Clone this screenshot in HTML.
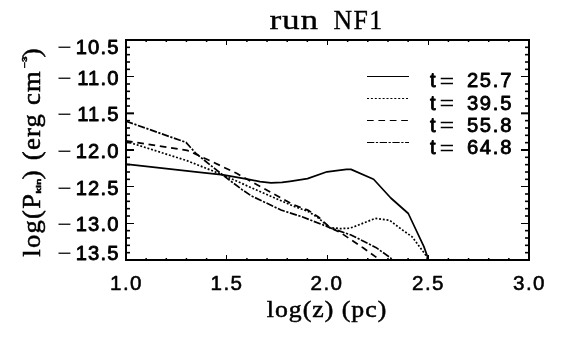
<!DOCTYPE html>
<html><head><meta charset="utf-8"><title>run NF1</title>
<style>
html,body{margin:0;padding:0;background:#fff;}
body{width:566px;height:340px;overflow:hidden;position:relative;font-family:"Liberation Sans",sans-serif;}
svg{position:absolute;left:0;top:0;display:block;filter:grayscale(1);}
.tk{font-family:"Liberation Sans",sans-serif;font-size:20.2px;letter-spacing:1.1px;fill:#000;stroke:#000;stroke-width:0.85px;stroke-linejoin:round;}
.mn{font-family:"Liberation Sans",sans-serif;font-size:18px;fill:#000;}
.ax{font-family:"Liberation Serif",serif;font-size:23px;letter-spacing:2px;fill:#000;stroke:#000;stroke-width:0.5px;}
.ti{font-family:"Liberation Serif",serif;font-size:27px;letter-spacing:3.2px;fill:#000;stroke:#000;stroke-width:0.35px;}
.sm{font-family:"Liberation Sans",sans-serif;font-size:8px;letter-spacing:0;font-weight:bold;fill:#000;stroke:#000;stroke-width:0.5px;}
</style></head>
<body>
<svg width="566" height="340" viewBox="0 0 566 340">
<rect x="0" y="0" width="566" height="340" fill="#fff"/>
<text transform="translate(269.6,28.8) scale(1.26,1)" class="ti" style="font-size:28px;letter-spacing:0.6px">run</text><text transform="translate(333.5,28.8) scale(0.955,1)" class="ti" style="letter-spacing:1.5px">NF1</text>
<rect x="126" y="40" width="403" height="220" fill="none" stroke="#000" stroke-width="2"/>
<g stroke="#000"><line x1="126" y1="40.50" x2="134" y2="40.50" stroke-width="1"/><line x1="529" y1="40.50" x2="521" y2="40.50" stroke-width="1"/><line x1="126" y1="47.33" x2="130" y2="47.33" stroke-width="1.6"/><line x1="529" y1="47.33" x2="525" y2="47.33" stroke-width="1.6"/><line x1="126" y1="54.67" x2="130" y2="54.67" stroke-width="1.6"/><line x1="529" y1="54.67" x2="525" y2="54.67" stroke-width="1.6"/><line x1="126" y1="62.00" x2="130" y2="62.00" stroke-width="1.6"/><line x1="529" y1="62.00" x2="525" y2="62.00" stroke-width="1.6"/><line x1="126" y1="69.33" x2="130" y2="69.33" stroke-width="1.6"/><line x1="529" y1="69.33" x2="525" y2="69.33" stroke-width="1.6"/><line x1="126" y1="76.50" x2="134" y2="76.50" stroke-width="1"/><line x1="529" y1="76.50" x2="521" y2="76.50" stroke-width="1"/><line x1="126" y1="84.00" x2="130" y2="84.00" stroke-width="1.6"/><line x1="529" y1="84.00" x2="525" y2="84.00" stroke-width="1.6"/><line x1="126" y1="91.33" x2="130" y2="91.33" stroke-width="1.6"/><line x1="529" y1="91.33" x2="525" y2="91.33" stroke-width="1.6"/><line x1="126" y1="98.67" x2="130" y2="98.67" stroke-width="1.6"/><line x1="529" y1="98.67" x2="525" y2="98.67" stroke-width="1.6"/><line x1="126" y1="106.00" x2="130" y2="106.00" stroke-width="1.6"/><line x1="529" y1="106.00" x2="525" y2="106.00" stroke-width="1.6"/><line x1="126" y1="113.33" x2="134" y2="113.33" stroke-width="2"/><line x1="529" y1="113.33" x2="521" y2="113.33" stroke-width="2"/><line x1="126" y1="120.67" x2="130" y2="120.67" stroke-width="1.6"/><line x1="529" y1="120.67" x2="525" y2="120.67" stroke-width="1.6"/><line x1="126" y1="128.00" x2="130" y2="128.00" stroke-width="1.6"/><line x1="529" y1="128.00" x2="525" y2="128.00" stroke-width="1.6"/><line x1="126" y1="135.33" x2="130" y2="135.33" stroke-width="1.6"/><line x1="529" y1="135.33" x2="525" y2="135.33" stroke-width="1.6"/><line x1="126" y1="142.67" x2="130" y2="142.67" stroke-width="1.6"/><line x1="529" y1="142.67" x2="525" y2="142.67" stroke-width="1.6"/><line x1="126" y1="150.00" x2="134" y2="150.00" stroke-width="2"/><line x1="529" y1="150.00" x2="521" y2="150.00" stroke-width="2"/><line x1="126" y1="157.33" x2="130" y2="157.33" stroke-width="1.6"/><line x1="529" y1="157.33" x2="525" y2="157.33" stroke-width="1.6"/><line x1="126" y1="164.67" x2="130" y2="164.67" stroke-width="1.6"/><line x1="529" y1="164.67" x2="525" y2="164.67" stroke-width="1.6"/><line x1="126" y1="172.00" x2="130" y2="172.00" stroke-width="1.6"/><line x1="529" y1="172.00" x2="525" y2="172.00" stroke-width="1.6"/><line x1="126" y1="179.33" x2="130" y2="179.33" stroke-width="1.6"/><line x1="529" y1="179.33" x2="525" y2="179.33" stroke-width="1.6"/><line x1="126" y1="186.50" x2="134" y2="186.50" stroke-width="1"/><line x1="529" y1="186.50" x2="521" y2="186.50" stroke-width="1"/><line x1="126" y1="194.00" x2="130" y2="194.00" stroke-width="1.6"/><line x1="529" y1="194.00" x2="525" y2="194.00" stroke-width="1.6"/><line x1="126" y1="201.33" x2="130" y2="201.33" stroke-width="1.6"/><line x1="529" y1="201.33" x2="525" y2="201.33" stroke-width="1.6"/><line x1="126" y1="208.67" x2="130" y2="208.67" stroke-width="1.6"/><line x1="529" y1="208.67" x2="525" y2="208.67" stroke-width="1.6"/><line x1="126" y1="216.00" x2="130" y2="216.00" stroke-width="1.6"/><line x1="529" y1="216.00" x2="525" y2="216.00" stroke-width="1.6"/><line x1="126" y1="223.50" x2="134" y2="223.50" stroke-width="1"/><line x1="529" y1="223.50" x2="521" y2="223.50" stroke-width="1"/><line x1="126" y1="230.67" x2="130" y2="230.67" stroke-width="1.6"/><line x1="529" y1="230.67" x2="525" y2="230.67" stroke-width="1.6"/><line x1="126" y1="238.00" x2="130" y2="238.00" stroke-width="1.6"/><line x1="529" y1="238.00" x2="525" y2="238.00" stroke-width="1.6"/><line x1="126" y1="245.33" x2="130" y2="245.33" stroke-width="1.6"/><line x1="529" y1="245.33" x2="525" y2="245.33" stroke-width="1.6"/><line x1="126" y1="252.67" x2="130" y2="252.67" stroke-width="1.6"/><line x1="529" y1="252.67" x2="525" y2="252.67" stroke-width="1.6"/><line x1="126" y1="259.50" x2="134" y2="259.50" stroke-width="1"/><line x1="529" y1="259.50" x2="521" y2="259.50" stroke-width="1"/><line x1="126.50" y1="260" x2="126.50" y2="255" stroke-width="1"/><line x1="126.50" y1="40" x2="126.50" y2="45" stroke-width="1"/><line x1="146.15" y1="260" x2="146.15" y2="258.0" stroke-width="1.5"/><line x1="146.15" y1="40" x2="146.15" y2="42.0" stroke-width="1.5"/><line x1="166.30" y1="260" x2="166.30" y2="258.0" stroke-width="1.5"/><line x1="166.30" y1="40" x2="166.30" y2="42.0" stroke-width="1.5"/><line x1="186.45" y1="260" x2="186.45" y2="258.0" stroke-width="1.5"/><line x1="186.45" y1="40" x2="186.45" y2="42.0" stroke-width="1.5"/><line x1="206.60" y1="260" x2="206.60" y2="258.0" stroke-width="1.5"/><line x1="206.60" y1="40" x2="206.60" y2="42.0" stroke-width="1.5"/><line x1="226.50" y1="260" x2="226.50" y2="255" stroke-width="1"/><line x1="226.50" y1="40" x2="226.50" y2="45" stroke-width="1"/><line x1="246.90" y1="260" x2="246.90" y2="258.0" stroke-width="1.5"/><line x1="246.90" y1="40" x2="246.90" y2="42.0" stroke-width="1.5"/><line x1="267.05" y1="260" x2="267.05" y2="258.0" stroke-width="1.5"/><line x1="267.05" y1="40" x2="267.05" y2="42.0" stroke-width="1.5"/><line x1="287.20" y1="260" x2="287.20" y2="258.0" stroke-width="1.5"/><line x1="287.20" y1="40" x2="287.20" y2="42.0" stroke-width="1.5"/><line x1="307.35" y1="260" x2="307.35" y2="258.0" stroke-width="1.5"/><line x1="307.35" y1="40" x2="307.35" y2="42.0" stroke-width="1.5"/><line x1="327.50" y1="260" x2="327.50" y2="255" stroke-width="1"/><line x1="327.50" y1="40" x2="327.50" y2="45" stroke-width="1"/><line x1="347.65" y1="260" x2="347.65" y2="258.0" stroke-width="1.5"/><line x1="347.65" y1="40" x2="347.65" y2="42.0" stroke-width="1.5"/><line x1="367.80" y1="260" x2="367.80" y2="258.0" stroke-width="1.5"/><line x1="367.80" y1="40" x2="367.80" y2="42.0" stroke-width="1.5"/><line x1="387.95" y1="260" x2="387.95" y2="258.0" stroke-width="1.5"/><line x1="387.95" y1="40" x2="387.95" y2="42.0" stroke-width="1.5"/><line x1="408.10" y1="260" x2="408.10" y2="258.0" stroke-width="1.5"/><line x1="408.10" y1="40" x2="408.10" y2="42.0" stroke-width="1.5"/><line x1="428.50" y1="260" x2="428.50" y2="255" stroke-width="1"/><line x1="428.50" y1="40" x2="428.50" y2="45" stroke-width="1"/><line x1="448.40" y1="260" x2="448.40" y2="258.0" stroke-width="1.5"/><line x1="448.40" y1="40" x2="448.40" y2="42.0" stroke-width="1.5"/><line x1="468.55" y1="260" x2="468.55" y2="258.0" stroke-width="1.5"/><line x1="468.55" y1="40" x2="468.55" y2="42.0" stroke-width="1.5"/><line x1="488.70" y1="260" x2="488.70" y2="258.0" stroke-width="1.5"/><line x1="488.70" y1="40" x2="488.70" y2="42.0" stroke-width="1.5"/><line x1="508.85" y1="260" x2="508.85" y2="258.0" stroke-width="1.5"/><line x1="508.85" y1="40" x2="508.85" y2="42.0" stroke-width="1.5"/><line x1="529.50" y1="260" x2="529.50" y2="255" stroke-width="1"/><line x1="529.50" y1="40" x2="529.50" y2="45" stroke-width="1"/></g>
<g fill="none" stroke="#000" stroke-linejoin="round">
<polyline points="126.0,164.2 200.0,172.3 223.3,174.9 248.6,179.3 260.0,181.6 271.0,182.9 282.0,182.4 290.0,181.3 307.5,178.6 327.0,171.8 346.4,169.4 351.0,169.4 373.6,179.2 390.8,198.0 408.3,213.5 423.9,246.6 427.7,257.3 428.5,260.0" stroke-width="1.7"/>
<polyline points="126.0,141.4 186.5,160.5 222.3,174.7 255.6,189.6 292.5,205.8 308.5,211.6 318.4,218.0 329.5,227.6 340.0,228.6 349.8,228.2 354.7,226.5 364.6,222.6 375.3,218.4 389.8,220.4 398.6,227.2 412.2,236.9 425.8,255.3 428.0,260.0" stroke-width="1.7" stroke-dasharray="1.9 1.85"/>
<polyline points="126.0,140.9 187.0,150.3 212.4,161.8 237.0,173.6 257.0,184.8 292.5,204.3 308.5,210.4 318.4,217.0 330.0,227.6 341.0,233.0 363.4,248.0 380.0,260.0" stroke-width="1.7" stroke-dasharray="6.7 4.7"/>
<polyline points="126.0,121.2 186.0,142.4 196.0,153.5 222.3,174.7 242.0,189.6 251.2,195.8 281.0,210.0 302.0,216.8 321.0,224.1 330.0,227.8 351.0,235.0 375.8,247.4 390.6,257.9 392.0,260.0" stroke-width="1.7" stroke-dasharray="7.3 1.6 2.2 1.6"/>
</g>
<text transform="translate(57.2,53.2) scale(1.36,1)" class="mn">−</text><text x="119.5" y="54.2" text-anchor="end" class="tk">10.5</text><text transform="translate(57.2,83.8) scale(1.36,1)" class="mn">−</text><text x="119.5" y="84.8" text-anchor="end" class="tk">11.0</text><text transform="translate(57.2,120.4) scale(1.36,1)" class="mn">−</text><text x="119.5" y="121.4" text-anchor="end" class="tk">11.5</text><text transform="translate(57.2,157.1) scale(1.36,1)" class="mn">−</text><text x="119.5" y="158.1" text-anchor="end" class="tk">12.0</text><text transform="translate(57.2,193.8) scale(1.36,1)" class="mn">−</text><text x="119.5" y="194.8" text-anchor="end" class="tk">12.5</text><text transform="translate(57.2,230.4) scale(1.36,1)" class="mn">−</text><text x="119.5" y="231.4" text-anchor="end" class="tk">13.0</text><text transform="translate(57.2,258.9) scale(1.36,1)" class="mn">−</text><text x="119.5" y="259.9" text-anchor="end" class="tk">13.5</text>
<text x="126.5" y="289.9" text-anchor="middle" class="tk" style="font-size:20.6px;stroke-width:0.55px;letter-spacing:1.5px">1.0</text><text x="227" y="289.9" text-anchor="middle" class="tk" style="font-size:20.6px;stroke-width:0.55px;letter-spacing:1.5px">1.5</text><text x="327" y="289.9" text-anchor="middle" class="tk" style="font-size:20.6px;stroke-width:0.55px;letter-spacing:1.5px">2.0</text><text x="428.5" y="289.9" text-anchor="middle" class="tk" style="font-size:20.6px;stroke-width:0.55px;letter-spacing:1.5px">2.5</text><text x="529.5" y="289.9" text-anchor="middle" class="tk" style="font-size:20.6px;stroke-width:0.55px;letter-spacing:1.5px">3.0</text>
<line x1="367" y1="76.5" x2="409" y2="76.5" stroke="#000" stroke-width="1" /><text x="430" y="87.3" class="tk">t</text><text transform="translate(439.5,87.6) scale(1.4,1.15)" class="mn">=</text><text x="513.2" y="87.3" text-anchor="end" class="tk" style="letter-spacing:1.75px">25.7</text><line x1="367" y1="98.5" x2="409" y2="98.5" stroke="#000" stroke-width="1" stroke-dasharray="2 1.9"/><text x="430" y="110.1" class="tk">t</text><text transform="translate(439.5,110.4) scale(1.4,1.15)" class="mn">=</text><text x="513.2" y="110.1" text-anchor="end" class="tk" style="letter-spacing:1.75px">39.5</text><line x1="367" y1="120.5" x2="409" y2="120.5" stroke="#000" stroke-width="1" stroke-dasharray="6.7 4.7"/><text x="430" y="132.1" class="tk">t</text><text transform="translate(439.5,132.4) scale(1.4,1.15)" class="mn">=</text><text x="513.2" y="132.1" text-anchor="end" class="tk" style="letter-spacing:1.75px">55.8</text><line x1="367" y1="142.5" x2="409" y2="142.5" stroke="#000" stroke-width="1" stroke-dasharray="7.3 1.6 2.2 1.6"/><text x="430" y="154.2" class="tk">t</text><text transform="translate(439.5,154.5) scale(1.4,1.15)" class="mn">=</text><text x="513.2" y="154.2" text-anchor="end" class="tk" style="letter-spacing:1.75px">64.8</text>
<text transform="translate(327,316.5) scale(1.12,1)" text-anchor="middle" class="ax" style="letter-spacing:0.9px">log(z) (pc)</text>
<g transform="translate(39.5,256.7) rotate(-90)">
<text transform="translate(0,0) scale(1.155,1.06)" class="ax" style="letter-spacing:1.1px">log(P</text>
<text transform="translate(63,1.8) scale(1.3,0.9)" class="sm">kin</text>
<text transform="translate(77.5,0) scale(1.155,1.06)" class="ax">)</text>
<text transform="translate(96.5,0) scale(1.155,1.06)" class="ax" style="letter-spacing:1.1px">(erg cm</text>
<text transform="translate(188.8,-13.0) scale(1.25,0.9)" class="sm">−3</text>
<text transform="translate(199.5,0) scale(1.155,1.06)" class="ax">)</text>
</g>
</svg>
</body></html>
